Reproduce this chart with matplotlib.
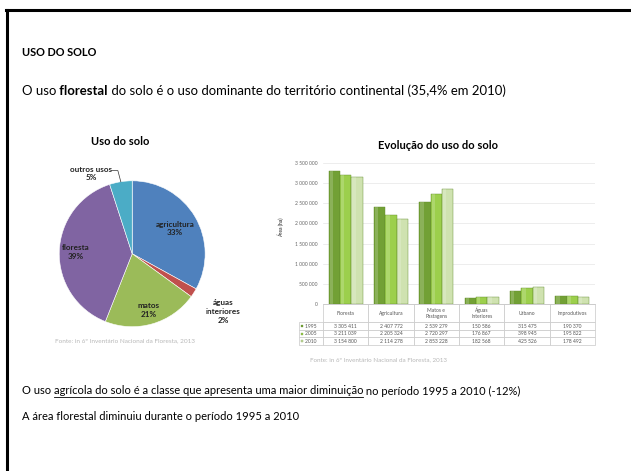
import numpy as np
import matplotlib.pyplot as plt
from matplotlib.lines import Line2D

plt.rcParams['font.family'] = ['Lato', 'DejaVu Sans']

# pie data
pie_labels = ["agricultura", "águas\ninteriores", "matos", "floresta", "outros usos"]
pie_pct = [33, 2, 21, 39, 5]
pie_colors = ["#4f81bd", "#c0504d", "#9bbb59", "#8064a2", "#4bacc6"]
pie_label_dist = [0.68, 1.48, 0.8, 0.77, 1.2]

# bar data (ha)
categorias = ["Floresta", "Agricultura", "Matos e\nPastagens", "Águas\nInteriores", "Urbano", "Improdutivos"]
anos = ["1995", "2005", "2010"]
area_1995 = [3305411, 2407772, 2539279, 150586, 315475, 190370]
area_2005 = [3211039, 2205324, 2720297, 176867, 398945, 195822]
area_2010 = [3154800, 2114278, 2853228, 182568, 425526, 178492]
bar_colors = ["#72a035", "#9ccf4c", "#cfe2b0"]

fonte = "Fonte: in 6º Inventário Nacional da Floresta, 2013"

W, H = 631, 471
fig = plt.figure(figsize=(W / 100, H / 100), dpi=100)

def fx(px):
    return px / W

def fy(py):
    return 1 - py / H

# slide border (top and left only visible)
fig.add_artist(Line2D([fx(6), fx(631)], [fy(9.5), fy(9.5)], color='black', lw=2.2))
fig.add_artist(Line2D([fx(6.5), fx(6.5)], [fy(9.5), fy(471)], color='black', lw=2.2))

fig.text(fx(22), fy(53), "USO DO SOLO", weight='bold', size=7.9, va='center')

t1 = fig.text(fx(22), fy(91), "O uso", size=9.45, va='center')
t2 = fig.text(0, 0, " florestal", size=9.45, weight='bold', va='center')
t3 = fig.text(0, 0, " do solo é o uso dominante do território continental (35,4% em 2010)",
              size=9.45, va='center')

b1 = fig.text(fx(22), fy(391), "O uso ", size=8.0, va='center')
b2 = fig.text(0, 0, "agrícola do solo é a classe que apresenta uma maior diminuição",
              size=8.0, va='center')
b3 = fig.text(0, 0, " no período 1995 a 2010 (-12%)", size=8.0, va='center')
fig.text(fx(22), fy(416), "A área florestal diminuiu durante o período 1995 a 2010",
         size=8.0, va='center')

# ---- pie ----
ax_pie = fig.add_axes([0.065, 0.2675, 0.289, 0.3875])
wedges, _ = ax_pie.pie(pie_pct, colors=pie_colors, startangle=90, counterclock=False,
                       wedgeprops=dict(edgecolor='white', linewidth=0.4))
for w, lab, p, d in zip(wedges, pie_labels, pie_pct, pie_label_dist):
    ang = np.deg2rad((w.theta1 + w.theta2) / 2)
    txt = lab + "\n" + str(p) + "%"
    if lab == "outros usos":
        ex, ey = np.cos(ang), np.sin(ang)
        ax_pie.plot([ex - 0.12, ex - 0.04, ex], [1.14, 1.14, ey], color='#333', lw=0.5)
        ax_pie.text(ex - 0.41, 1.1, txt, ha='center', va='center', size=5.9,
                    weight='bold', color='#222', linespacing=1.3)
    else:
        ax_pie.text(d * np.cos(ang), d * np.sin(ang), txt, ha='center', va='center',
                    size=5.9, weight='bold', color='#222', linespacing=1.3)
fig.text(fx(120), fy(142), "Uso do solo", ha='center', va='center', weight='bold', size=8)
fig.text(fx(55), fy(341), fonte, size=4.6, color='#b8b8b8', va='center')

# ---- bars ----
ax = fig.add_axes([0.512, 0.3546, 0.431, 0.2994])
x = np.arange(len(categorias))
bw = 0.25
for i, vals in enumerate([area_1995, area_2005, area_2010]):
    ax.bar(x + (i - 1) * bw, vals, bw, color=bar_colors[i], edgecolor='#5f8a2a',
           linewidth=0.3, zorder=3)
    ax.bar(x + (i - 1) * bw - bw * 0.28, vals, bw * 0.3, color='white', alpha=0.18,
           linewidth=0, zorder=4)
ax.set_xlim(-0.5, len(categorias) - 0.5)
ax.set_ylim(0, 3500000)
yt = np.arange(0, 3500001, 500000)
ax.set_yticks(yt)
ax.set_yticklabels([f"{v:,}".replace(",", " ") for v in yt])
ax.tick_params(axis='y', labelsize=3.6, colors='#666', length=0, pad=4)
ax.set_xticks([])
ax.grid(axis='y', color='#e6e6e6', lw=0.5, zorder=0)
for s in ['top', 'right', 'left']:
    ax.spines[s].set_visible(False)
ax.spines['bottom'].set_color('#c8c8c8')
ax.spines['bottom'].set_linewidth(0.5)

w0 = 0.088
th = 0.291
rows = []
for ano, vals in zip(anos, [area_1995, area_2005, area_2010]):
    rows.append(["    " + ano] + [f"{v:,}".replace(",", " ") for v in vals])
tab = ax.table(cellText=[[""] + categorias] + rows, cellLoc='center',
               colWidths=[w0] + [1 / 6] * 6, bbox=[-w0, -th, 1 + w0, th])
tab.auto_set_font_size(False)
tab.set_fontsize(3.6)
for (r, c), cell in tab.get_celld().items():
    cell.set_height(2.4 if r == 0 else 1)
    cell.set_edgecolor('#c8c8c8')
    cell.set_linewidth(0.5)
    cell.get_text().set_color('#555')
    if r == 0 and c == 0:
        cell.visible_edges = ''
    if c == 0:
        cell.get_text().set_ha('left')
        cell.PAD = 0.05
for i in range(len(anos)):
    yc = -th + (2.5 - i) * th / 5.4
    ax.plot([-w0 + 0.012], [yc], marker='s', ms=2, color=bar_colors[i],
            mec='#5f8a2a', mew=0.2, transform=ax.transAxes, clip_on=False)

ax.text(-0.154, 0.546, "Área (ha)", rotation=90, transform=ax.transAxes,
        ha='center', va='center', size=3.6, weight='bold', color='#555')
fig.text(fx(438), fy(146), "Evolução do uso do solo", ha='center', va='center',
         weight='bold', size=8)
fig.text(fx(310), fy(360), fonte, size=4.5, color='#b8b8b8', va='center')

# place the inline text pieces
fig.canvas.draw()
r = fig.canvas.get_renderer()
def place_after(prev, nxt):
    bb = prev.get_window_extent(r)
    nxt.set_position((bb.x1 / W, prev.get_position()[1]))
place_after(t1, t2)
place_after(t2, t3)
place_after(b1, b2)
place_after(b2, b3)
fig.canvas.draw()
bb = b2.get_window_extent(r)
fig.add_artist(Line2D([bb.x0 / W, bb.x1 / W], [bb.y0 / H - 0.001] * 2, color='black', lw=0.6))

fig.savefig("out.png", dpi=100)
